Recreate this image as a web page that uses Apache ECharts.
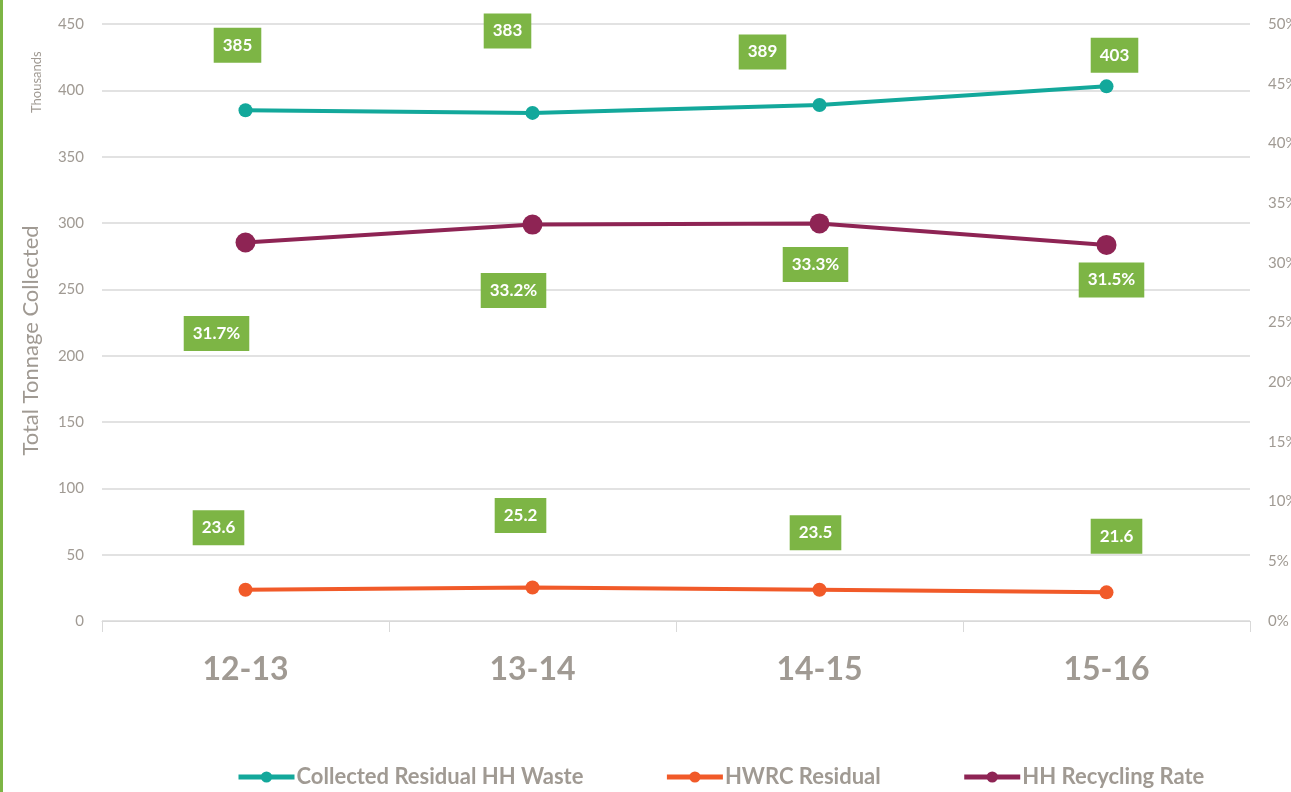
<!DOCTYPE html>
<html>
<head>
<meta charset="utf-8">
<script src="https://cdn.jsdelivr.net/npm/echarts@6/dist/echarts.min.js"></script>
<style>
  html, body { margin: 0; padding: 0; background: #fff; }
  #main { width: 1291px; height: 792px; }
</style>
</head>
<body>
<div id="main"></div>
<script>
// data
var years = ['12-13', '13-14', '14-15', '15-16'];
var residualWaste = [385, 383, 389, 403];   // thousands of tonnes
var hwrcResidual = [23.6, 25.2, 23.5, 21.6];
var recyclingRate = [31.7, 33.2, 33.3, 31.5]; // percent
var leftTicks = { min: 0, max: 450, interval: 50 };
var rightTicks = { min: 0, max: 50, interval: 5 };

// label placement (pixels from the point), kept apart from the data
var residualOffsets = [[-8, -65], [-25, -82], [-57, -53], [8, -31]];
var hwrcOffsets = [[-27, -62], [-12, -72], [-4, -57], [10, -56]];
var rateOffsets = [[-29, 91], [-19, 66], [-4, 41], [5, 35]];

var gray = '#a09a93';
var labelGreen = '#7db545';
var font = 'Lato';

function withLabels(values, offsets) {
    var out = [];
    for (var i = 0; i < values.length; i++) {
        out.push({
            value: values[i],
            label: { offset: offsets[i] }
        });
    }
    return out;
}

function labelStyle(suffix) {
    return {
        show: true,
        position: 'inside',
        formatter: function (p) { return String(p.value) + suffix; },
        backgroundColor: labelGreen,
        color: '#fff',
        fontFamily: font,
        fontWeight: 'bold',
        fontSize: 17,
        lineHeight: 20,
        padding: [8, 9, 7, 9]
    };
}

var chart = echarts.init(document.getElementById('main'));

var option = {
    backgroundColor: '#fff',
    animation: false,
    textStyle: { fontFamily: font },
    graphic: [
        { type: 'rect', left: 0, top: 0, shape: { width: 3, height: 792 }, style: { fill: '#7db545' } },
        {
            type: 'text', x: 30, y: 113, rotation: Math.PI / 2,
            style: { text: 'Thousands', fill: gray, font: '13px Lato' }
        }
    ],
    grid: { left: 102, right: 41, top: 24, bottom: 171, outerBoundsMode: 'none', containLabel: false },
    legend: {
        bottom: 4,
        left: 236,
        padding: 0,
        itemWidth: 56,
        itemHeight: 14,
        itemGap: 81,
        lineStyle: { width: 5 },
        textStyle: { color: gray, fontSize: 22, fontWeight: 'bold', fontFamily: font, padding: [0, 0, 0, -3] },
        data: ['Collected Residual HH Waste', 'HWRC Residual', 'HH Recycling Rate']
    },
    xAxis: {
        type: 'category',
        data: years,
        boundaryGap: true,
        axisLine: { lineStyle: { color: '#d9d9d9', width: 1 } },
        axisTick: { show: true, length: 11, lineStyle: { color: '#d9d9d9' } },
        axisLabel: { color: gray, fontSize: 32, fontWeight: 'bold', margin: 33, fontFamily: font }
    },
    yAxis: [
        {
            type: 'value',
            min: leftTicks.min, max: leftTicks.max, interval: leftTicks.interval,
            name: 'Total Tonnage Collected',
            nameLocation: 'middle',
            nameRotate: 90,
            nameGap: 60,
            nameTextStyle: { color: gray, fontSize: 22, fontFamily: font, padding: [0, 36, 0, 0] },
            axisLine: { show: false },
            axisTick: { show: false },
            axisLabel: { color: gray, fontSize: 15, margin: 18 },
            splitLine: { lineStyle: { color: '#d9d9d9', width: 1.5 } }
        },
        {
            type: 'value',
            min: rightTicks.min, max: rightTicks.max, interval: rightTicks.interval,
            position: 'right',
            axisLine: { show: false },
            axisTick: { show: false },
            axisLabel: { color: gray, fontSize: 15, margin: 18, formatter: '{value}%' },
            splitLine: { show: false }
        }
    ],
    series: [
        {
            name: 'Collected Residual HH Waste',
            type: 'line',
            yAxisIndex: 0,
            data: withLabels(residualWaste, residualOffsets),
            color: '#13a89b',
            symbol: 'circle',
            symbolSize: 14,
            lineStyle: { width: 4 },
            label: labelStyle('')
        },
        {
            name: 'HWRC Residual',
            type: 'line',
            yAxisIndex: 0,
            data: withLabels(hwrcResidual, hwrcOffsets),
            color: '#f15a29',
            symbol: 'circle',
            symbolSize: 14,
            lineStyle: { width: 4 },
            label: labelStyle('')
        },
        {
            name: 'HH Recycling Rate',
            type: 'line',
            yAxisIndex: 1,
            data: withLabels(recyclingRate, rateOffsets),
            color: '#8e2454',
            symbol: 'circle',
            symbolSize: 20,
            lineStyle: { width: 4 },
            label: labelStyle('%')
        }
    ]
};

chart.setOption(option);
</script>
</body>
</html>
